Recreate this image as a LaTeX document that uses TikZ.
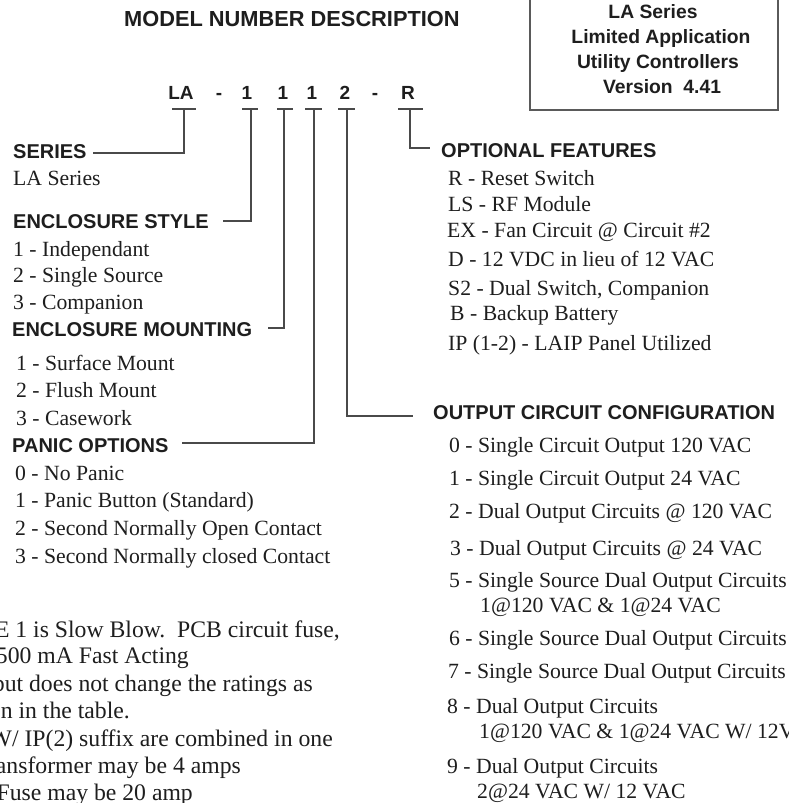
\documentclass[tikz,border=0pt]{standalone}
\usepackage{fontspec}
\setmainfont{Liberation Serif}
\newfontfamily\hd{Liberation Sans}
\definecolor{ink}{HTML}{1E1E1E}
\definecolor{linegray}{HTML}{4A4A4A}
\definecolor{boxgray}{HTML}{5A5A5A}
\tikzset{
  item/.style={anchor=base west, inner sep=0pt, text=ink, font=\fontsize{21.7}{24}\selectfont},
  head/.style={anchor=base west, inner sep=0pt, text=ink, font=\hd\bfseries\fontsize{20}{24}\selectfont},
  note/.style={anchor=base east, inner sep=0pt, text=ink, font=\fontsize{23.7}{26}\selectfont},
  digit/.style={anchor=base, inner sep=0pt, text=ink, font=\hd\bfseries\fontsize{19}{22}\selectfont},
  boxtext/.style={anchor=base, inner sep=0pt, text=ink, font=\hd\bfseries\fontsize{19.3}{22}\selectfont},
  conn/.style={draw=linegray, line width=1.6pt},
}
\begin{document}
\begin{tikzpicture}[x=1pt,y=-1pt]
\useasboundingbox (0,0) rectangle (789,803);
\clip (0,0) rectangle (789,803);
\fill[white] (0,0) rectangle (789,803);

% title
\node[anchor=base west, inner sep=0pt, text=ink, font=\hd\bfseries\fontsize{21.8}{24}\selectfont] (title) at (124,26) {MODEL NUMBER DESCRIPTION};

% info box
\draw[draw=boxgray, line width=1.7pt] (530,-5) rectangle (778,110);
\node[boxtext] (b1) at (653,19) {LA Series};
\node[boxtext] (b2) at (661,43) {Limited Application};
\node[boxtext] (b3) at (658,68) {Utility Controllers};
\node[boxtext] (b4) at (662,93) {Version~~4.41};

% model number
\node[digit] (dLA) at (181,99) {LA};
\node[digit] (dash1) at (219,99) {-};
\node[digit] (d1) at (247,99) {1};
\node[digit] (d2) at (283,99) {1};
\node[digit] (d3) at (312,99) {1};
\node[digit] (d4) at (345,99) {2};
\node[digit] (dash2) at (375,99) {-};
\node[digit] (dR) at (408,99) {R};

% tick bars
\coordinate (tLA) at (184,109);
\coordinate (t1) at (251,109);
\coordinate (t2) at (284,109);
\coordinate (t3) at (314,109);
\coordinate (t4) at (347,109);
\coordinate (tR) at (410,109);
\draw[conn] (172,109) -- (196,109);
\draw[conn] (242,109) -- (258,109);
\draw[conn] (277,109) -- (293,109);
\draw[conn] (305,109) -- (322,109);
\draw[conn] (338,109) -- (355,109);
\draw[conn] (398,109) -- (423,109);

% end points of connectors
\coordinate (eLA) at (93,153);
\coordinate (e1) at (223,221);
\coordinate (e2) at (268,328);
\coordinate (e3) at (182,443);
\coordinate (e4) at (413,416);
\coordinate (eR) at (430,148);

\draw[conn] (tLA) |- (eLA);
\draw[conn] (t1) |- (e1);
\draw[conn] (t2) |- (e2);
\draw[conn] (t3) |- (e3);
\draw[conn] (t4) |- (e4);
\draw[conn] (tR) |- (eR);

% left column
\node[head] (hSeries) at (13,158) {SERIES};
\node[item] (s1) at (13,185) {LA Series};

\node[head] (hStyle) at (13,228) {ENCLOSURE STYLE};
\node[item] (st1) at (13,256) {1 - Independant};
\node[item] (st2) at (13,282) {2 - Single Source};
\node[item] (st3) at (13,309) {3 - Companion};

\node[head] (hMount) at (12,336) {ENCLOSURE MOUNTING};
\node[item] (m1) at (16,370) {1 - Surface Mount};
\node[item] (m2) at (16,397) {2 - Flush Mount};
\node[item] (m3) at (16,425) {3 - Casework};

\node[head] (hPanic) at (12,452) {PANIC OPTIONS};
\node[item] (p0) at (15,480) {0 - No Panic};
\node[item] (p1) at (15,507) {1 - Panic Button (Standard)};
\node[item] (p2) at (15,535) {2 - Second Normally Open Contact};
\node[item] (p3) at (15,563) {3 - Second Normally closed Contact};

% notes (cropped at the left edge)
\node[note] (n1) at (340,637) {E 1 is Slow Blow.\ \ PCB circuit fuse,};
\node[note] (n2) at (189,663) {500 mA Fast Acting};
\node[note] (n3) at (313,691) {but does not change the ratings as};
\node[note] (n4) at (130,718) {n in the table.};
\node[note] (n5) at (333,746) {W/ IP(2) suffix are combined in one};
\node[note] (n6) at (241,773) {ansformer may be 4 amps};
\node[note] (n7) at (193,800) {Fuse may be 20 amp};

% right column
\node[head] (hOpt) at (441,157) {OPTIONAL FEATURES};
\node[item] (o1) at (448,185) {R - Reset Switch};
\node[item] (o2) at (448,211) {LS - RF Module};
\node[item] (o3) at (447,237) {EX - Fan Circuit @ Circuit \#2};
\node[item] (o4) at (448,266) {D - 12 VDC in lieu of 12 VAC};
\node[item] (o5) at (448,295) {S2 - Dual Switch, Companion};
\node[item] (o6) at (450,320) {B - Backup Battery};
\node[item] (o7) at (448,350) {IP (1-2) - LAIP Panel Utilized};

\node[head] (hOut) at (433,419) {OUTPUT CIRCUIT CONFIGURATION};
\node[item] (c0) at (449,452) {0 - Single Circuit Output 120 VAC};
\node[item] (c1) at (449,485) {1 - Single Circuit Output 24 VAC};
\node[item] (c2) at (449,518) {2 - Dual Output Circuits @ 120 VAC};
\node[item] (c3) at (450,555) {3 - Dual Output Circuits @ 24 VAC};
\node[item] (c5) at (449,587) {5 - Single Source Dual Output Circuits};
\node[item] (c5b) at (480,612) {1@120 VAC \& 1@24 VAC};
\node[item] (c6) at (449,645) {6 - Single Source Dual Output Circuits};
\node[item] (c7) at (448,678) {7 - Single Source Dual Output Circuits};
\node[item] (c8) at (447,713) {8 - Dual Output Circuits};
\node[item] (c8b) at (479,738) {1@120 VAC \& 1@24 VAC W/ 12VAC};
\node[item] (c9) at (447,773) {9 - Dual Output Circuits};
\node[item] (c9b) at (477,798) {2@24 VAC W/ 12 VAC};
\end{tikzpicture}
\end{document}
